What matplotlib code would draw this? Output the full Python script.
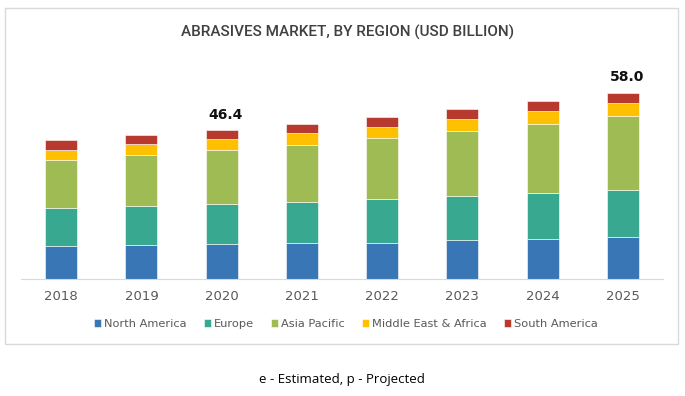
import numpy as np
import matplotlib
matplotlib.use("Agg")
from matplotlib import pyplot as plt
from matplotlib.patches import Rectangle

years = ['2018', '2019', '2020', '2021', '2022', '2023', '2024', '2025']
regions = ['North America', 'Europe', 'Asia Pacific', 'Middle East & Africa', 'South America']
north_america = [10.2, 10.5, 10.8, 11.1, 11.3, 12.1, 12.5, 13.2]
europe = [11.8, 12.2, 12.6, 13.0, 13.7, 13.7, 14.4, 14.6]
asia_pacific = [15.1, 16.0, 16.8, 17.7, 19.0, 20.2, 21.5, 23.0]
mea = [3.1, 3.2, 3.3, 3.6, 3.3, 3.7, 3.9, 4.0]
south_america = [3.0, 2.8, 2.8, 3.0, 3.2, 3.1, 3.1, 3.2]
labels = {'2020': '46.4', '2025': '58.0'}

colors = ['#3876B5', '#38A990', '#9FBB53', '#FFC000', '#B83A2F']

fig = plt.figure(figsize=(6.85, 3.96), dpi=100)
fig.patches.append(Rectangle((5/685, 1-344/396), 673/685, 336/396, transform=fig.transFigure,
                             fill=False, edgecolor='#d9d9d9', linewidth=1.0))

ax = fig.add_axes([21/685, 1-279/396, 642/685, 212/396])
x = np.arange(len(years))
bottom = np.zeros(len(years))
for name, vals, c in zip(regions, [north_america, europe, asia_pacific, mea, south_america], colors):
    ax.bar(x, vals, 0.4, bottom=bottom, color=c, label=name, edgecolor='white', linewidth=0.4)
    bottom += np.array(vals)

for i, y in enumerate(years):
    if y in labels:
        ax.annotate(labels[y], (x[i] + 0.05, bottom[i]), xytext=(0, 6), textcoords='offset points',
                    ha='center', va='bottom', fontsize=10, fontweight='bold', color='#111111')

ax.set_xlim(-0.5, 7.5)
ax.set_ylim(0, 66)
ax.set_yticks([])
ax.set_xticks(x, years)
for s in ['top', 'right', 'left']:
    ax.spines[s].set_visible(False)
ax.spines['bottom'].set_color('#d9d9d9')
ax.tick_params(axis='x', length=0, pad=8, labelsize=9.5, labelcolor='#595959')

fig.text(348/685, 1-32/396, 'ABRASIVES MARKET, BY REGION (USD BILLION)', ha='center', va='center',
         fontsize=11, color='#404040', fontweight='medium', family=['Roboto', 'DejaVu Sans'])

fig.legend(loc='center', bbox_to_anchor=(346/685, 1-324/396), ncol=5, frameon=False,
           fontsize=8.2, labelcolor='#595959', handlelength=0.6, handleheight=0.6,
           handletextpad=0.3, columnspacing=1.5)

fig.text(342/685, 1-380/396, 'e - Estimated, p - Projected', ha='center', va='center',
         fontsize=9.5, color='black', family=['Open Sans', 'DejaVu Sans'])

fig.savefig('out.png', dpi=100)
